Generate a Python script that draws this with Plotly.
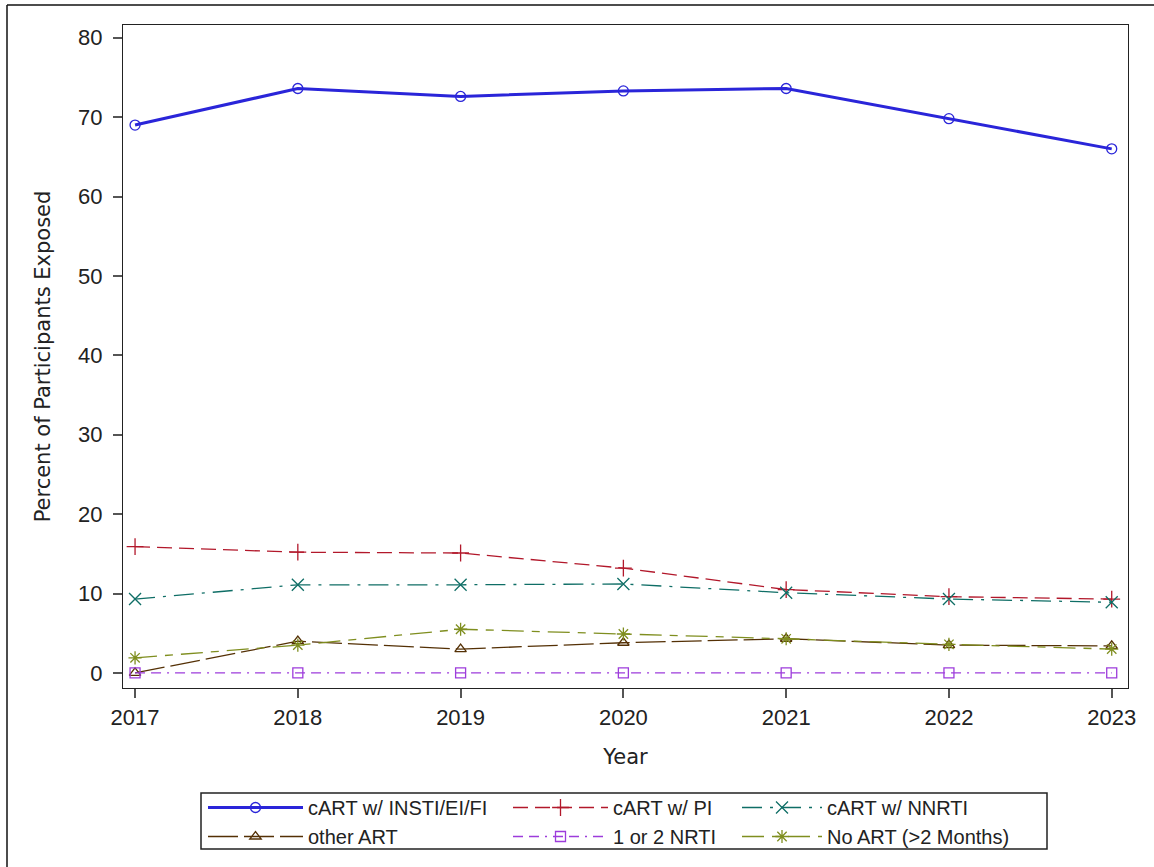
import plotly.graph_objects as go

years = [2017, 2018, 2019, 2020, 2021, 2022, 2023]
insti = [69.0, 73.6, 72.6, 73.3, 73.6, 69.8, 66.0]
pi = [15.9, 15.2, 15.1, 13.2, 10.5, 9.6, 9.3]
nnrti = [9.3, 11.1, 11.1, 11.2, 10.1, 9.3, 8.9]
other_art = [0.0, 4.0, 3.0, 3.8, 4.3, 3.5, 3.4]
nrti = [0.0, 0.0, 0.0, 0.0, 0.0, 0.0, 0.0]
no_art = [1.9, 3.5, 5.5, 4.9, 4.3, 3.6, 3.0]
y_ticks = [0, 10, 20, 30, 40, 50, 60, 70, 80]

# name, values, color, dash, width, marker symbol, marker size, legend group
series = [
    ("cART w/ INSTI/EI/FI", insti, "#2A25D9", "solid", 3, "circle-open", 10, "legend"),
    ("other ART", other_art, "#543005", "30px,6px", 1.3, "triangle-up-open", 10, "legend"),
    ("cART w/ PI", pi, "#B2182B", "15px,7px", 1.3, "cross-thin-open", 12, "legend2"),
    ("1 or 2 NRTI", nrti, "#9D3CDB", "10px,6px,10px,6px,2px,6px", 1.3, "square-open", 10, "legend2"),
    ("cART w/ NNRTI", nnrti, "#0F6E66", "20px,8px,3px,8px", 1.3, "x-thin-open", 12, "legend3"),
    ("No ART (>2 Months)", no_art, "#7F8E1F", "22px,8px,8px,8px", 1.3, "asterisk-open", 11, "legend3"),
]

fig = go.Figure()
for name, vals, color, dash, width, sym, size, leg in series:
    fig.add_trace(go.Scatter(
        x=years, y=vals, name=name, mode="lines+markers", legend=leg,
        line=dict(color=color, dash=dash, width=width),
        marker=dict(symbol=sym, size=size, color=color, line=dict(width=1.3, color=color)),
    ))

W, H = 1154, 867
L, R, T, B = 123, 26, 25, 179
pw, ph = W - L - R, H - T - B


def px_x(p):
    return (p - L) / pw


def px_y(p):
    return (H - B - p) / ph


legend_font = dict(family="Liberation Sans, Arial, sans-serif", size=20, color="#222")
leg_common = dict(orientation="v", xanchor="left", yanchor="top", y=px_y(788),
                  bgcolor="rgba(0,0,0,0)", borderwidth=0, font=legend_font,
                  tracegroupgap=0)

fig.update_layout(
    width=W, height=H,
    margin=dict(l=L, r=R, t=T, b=B, autoexpand=False),
    plot_bgcolor="white", paper_bgcolor="white",
    font=dict(family="Liberation Sans, Arial, sans-serif", size=20, color="#222"),
    showlegend=True,
    legend=dict(x=px_x(203), itemwidth=95, **leg_common),
    legend2=dict(x=px_x(508), itemwidth=95, **leg_common),
    legend3=dict(x=px_x(737), itemwidth=80, **leg_common),
)
fig.update_xaxes(
    range=[2016.926, 2023.1], tickvals=years, ticktext=[str(y) for y in years],
    showgrid=False, zeroline=False, showline=True, linecolor="#222", linewidth=1.2, mirror=True,
    ticks="outside", ticklen=9, tickwidth=1.5, tickcolor="#555", ticklabelstandoff=0,
    tickfont=dict(family="Liberation Sans, Arial, sans-serif", size=22, color="#222"),
    title=dict(text="Year", font=dict(family="DejaVu Sans, sans-serif", size=21, color="#222"), standoff=20),
)
fig.update_yaxes(
    range=[-1.9, 81.6], tickvals=y_ticks,
    showgrid=False, zeroline=False, showline=True, linecolor="#222", linewidth=1.2, mirror=True,
    ticks="outside", ticklen=9, tickwidth=1.5, tickcolor="#555", ticklabelstandoff=6,
    tickfont=dict(family="Liberation Sans, Arial, sans-serif", size=22, color="#222"),
    title=dict(text="Percent of Participants Exposed",
               font=dict(family="DejaVu Sans, sans-serif", size=21, color="#222"), standoff=21),
)

# legend frame
fig.add_shape(type="rect", xref="paper", yref="paper",
              x0=px_x(201), x1=px_x(1047), y0=px_y(849), y1=px_y(793),
              line=dict(color="#222", width=1.5), fillcolor="rgba(0,0,0,0)")
# outer image frame (left and top edges visible)
fig.add_shape(type="line", xref="paper", yref="paper",
              x0=px_x(7), x1=px_x(7), y0=px_y(H + 5), y1=px_y(5),
              line=dict(color="#111", width=1.5))
fig.add_shape(type="line", xref="paper", yref="paper",
              x0=px_x(7), x1=px_x(W + 5), y0=px_y(5), y1=px_y(5),
              line=dict(color="#111", width=1.5))

fig.write_html("out.html", config={"displayModeBar": False},
               post_script="document.body.style.margin='0';")
